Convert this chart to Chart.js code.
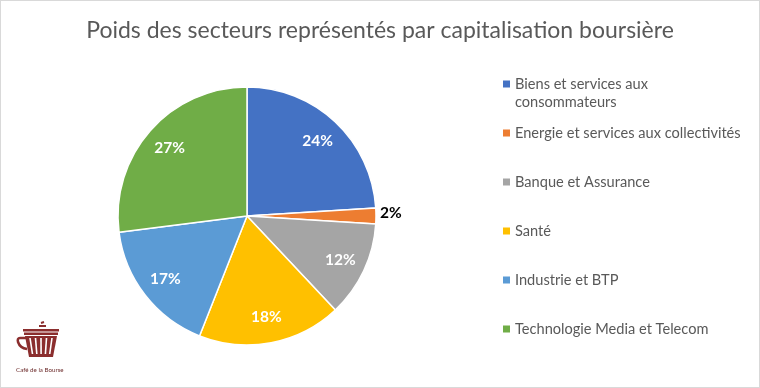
<!DOCTYPE html>
<html>
<head>
<meta charset="utf-8">
<script src="https://cdn.jsdelivr.net/npm/chart.js@4.4.0/dist/chart.umd.min.js"></script>
<style>
  html, body { margin: 0; padding: 0; background: #fff; }
  #wrap { width: 760px; height: 388px; position: relative; }
  canvas { display: block; }
</style>
</head>
<body>
<div id="wrap"><canvas id="pieChart" width="760" height="388"></canvas></div>
<script>
// ── Data ──
const chartTitle = 'Poids des secteurs représentés par capitalisation boursière';
const sectors = [
  'Biens et services aux\nconsommateurs',
  'Energie et services aux collectivités',
  'Banque et Assurance',
  'Santé',
  'Industrie et BTP',
  'Technologie Media et Telecom'
];
const weights = [24, 2, 12, 18, 17, 27];
const sliceColors = ['#4472C4', '#ED7D31', '#A5A5A5', '#FFC000', '#5B9BD5', '#70AD47'];

const FONT = 'Lato, "Open Sans", sans-serif';
const TEXT_GREY = '#595959';

// ── Frame, title, legend, logo ──
const decorPlugin = {
  id: 'decor',
  beforeDraw(chart) {
    const { ctx, width, height } = chart;
    ctx.save();
    ctx.fillStyle = '#fff';
    ctx.fillRect(0, 0, width, height);
    ctx.strokeStyle = '#d9d9d9';
    ctx.lineWidth = 1;
    ctx.strokeRect(0.5, 0.5, width - 1, height - 1);
    ctx.restore();
  },
  afterDraw(chart) {
    const { ctx } = chart;
    ctx.save();

    // title
    ctx.fillStyle = TEXT_GREY;
    ctx.font = '23px ' + FONT;
    ctx.textAlign = 'center';
    ctx.textBaseline = 'middle';
    ctx.fillText(chartTitle, 380, 31);

    // legend
    ctx.font = '14.6px ' + FONT;
    ctx.textAlign = 'left';
    sectors.forEach((label, i) => {
      const y = 84 + i * 49;
      ctx.fillStyle = sliceColors[i];
      ctx.fillRect(503, y - 3.5, 7, 7);
      ctx.fillStyle = TEXT_GREY;
      label.split('\n').forEach((line, j) => {
        ctx.fillText(line, 515, y + j * 18);
      });
    });

    // logo
    const red = '#8B2E2E';
    ctx.fillStyle = red;
    ctx.strokeStyle = red;
    // steam
    ctx.lineWidth = 2;
    ctx.beginPath();
    ctx.moveTo(39, 326); ctx.lineTo(46, 326);
    ctx.moveTo(41, 323); ctx.lineTo(44, 322);
    ctx.stroke();
    // rim
    ctx.fillRect(23, 329, 36, 2.5);
    ctx.fillRect(24, 332.5, 34, 2.5);
    // body
    ctx.beginPath();
    ctx.moveTo(25, 336); ctx.lineTo(57, 336);
    ctx.lineTo(53, 357); ctx.lineTo(29, 357);
    ctx.closePath();
    ctx.fill();
    // stripes
    ctx.strokeStyle = '#fff';
    ctx.lineWidth = 1.6;
    for (let k = 0; k < 5; k++) {
      const xt = 30 + k * 5.5, xb = 32.5 + k * 4.3;
      ctx.beginPath();
      ctx.moveTo(xt, 338); ctx.lineTo(xb, 354);
      ctx.stroke();
    }
    // handle
    ctx.strokeStyle = red;
    ctx.lineWidth = 2.5;
    ctx.beginPath();
    ctx.moveTo(26, 338);
    ctx.lineTo(20, 338);
    ctx.quadraticCurveTo(17, 338, 18, 342);
    ctx.quadraticCurveTo(20, 348, 27, 349);
    ctx.stroke();
    // logo text
    ctx.fillStyle = '#6b2a2a';
    ctx.font = '6.2px ' + FONT;
    ctx.textAlign = 'left';
    ctx.fillText('Café de la Bourse', 16, 370);

    ctx.restore();
  }
};

// ── Percentage labels ──
const pctLabels = {
  id: 'pctLabels',
  afterDatasetsDraw(chart) {
    const { ctx } = chart;
    const meta = chart.getDatasetMeta(0);
    const total = weights.reduce((a, b) => a + b, 0);
    ctx.save();
    ctx.textBaseline = 'middle';
    meta.data.forEach((arc, i) => {
      const { x, y, startAngle, endAngle, outerRadius } = arc.getProps(['x', 'y', 'startAngle', 'endAngle', 'outerRadius'], true);
      const mid = (startAngle + endAngle) / 2;
      const pct = Math.round(weights[i] / total * 100) + '%';
      ctx.font = 'bold 15.5px ' + FONT;
      if (weights[i] / total < 0.05) {
        ctx.fillStyle = '#000';
        ctx.textAlign = 'left';
        ctx.fillText(pct, x + Math.cos(mid) * (outerRadius + 4), y + Math.sin(mid) * (outerRadius + 4) - 3);
      } else {
        const r = outerRadius * 0.8;
        ctx.fillStyle = '#fff';
        ctx.textAlign = 'center';
        ctx.fillText(pct, x + Math.cos(mid) * r, y + Math.sin(mid) * r);
      }
    });
    ctx.restore();
  }
};

new Chart(document.getElementById('pieChart'), {
  type: 'pie',
  data: {
    labels: sectors.map(s => s.replace('\n', ' ')),
    datasets: [{
      data: weights,
      backgroundColor: sliceColors,
      borderColor: '#ffffff',
      borderWidth: 1.5
    }]
  },
  options: {
    responsive: false,
    animation: false,
    radius: 129,
    layout: { padding: { top: 87, bottom: 43, left: 118, right: 384 } },
    plugins: {
      legend: { display: false },
      title: { display: false },
      tooltip: { enabled: false }
    }
  },
  plugins: [decorPlugin, pctLabels]
});
</script>
</body>
</html>
